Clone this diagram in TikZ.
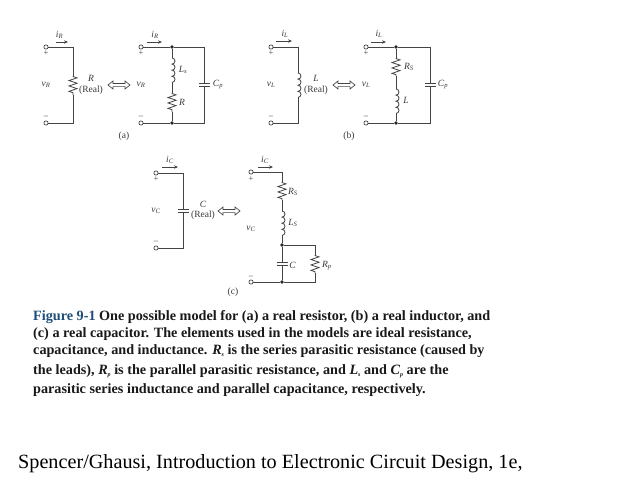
\documentclass[tikz,border=0pt]{standalone}
\usepackage{fontspec}
\setmainfont{Liberation Serif}
\usetikzlibrary{decorations.pathmorphing,arrows.meta}
\definecolor{wirec}{HTML}{444444}
\definecolor{labelc}{HTML}{3A3A3A}
\definecolor{figblue}{HTML}{1F4E79}
\newcommand{\sym}[2]{\textit{#1}\textsubscript{\textit{#2}}}
\newcommand{\capsub}[2]{\textit{#1}\raisebox{-2pt}{\fontsize{6}{6}\selectfont\textit{#2}}}
\tikzset{
  wire/.style={draw=wirec,line width=0.8pt},
  term/.style={circle,draw=wirec,line width=0.7pt,fill=white,inner sep=0pt,minimum size=4.2pt},
  junction/.style={circle,fill=black!85,inner sep=0pt,minimum size=3.8pt},
  lbl/.style={font=\fontsize{9.5}{10.5}\selectfont,text=labelc,inner sep=0pt,align=center},
  sign/.style={font=\fontsize{8.5}{8.5}\selectfont,text=labelc,inner sep=0pt},
  res/.style={wire,decorate,decoration={zigzag,segment length=5.4pt,amplitude=4pt,pre length=0.5pt,post length=0.5pt}},
  cur/.style={draw=wirec,line width=0.6pt,-{Stealth[length=4pt,width=3.4pt]}},
  equivarrow/.pic={\draw[draw=wirec,line width=0.7pt,fill=white] (-11,0)--(-6,-4)--(-6,-1.6)--(6,-1.6)--(6,-4)--(11,0)--(6,4)--(6,1.6)--(-6,1.6)--(-6,4)--cycle;},
  capp/.style={draw=wirec,line width=0.9pt},
  coil/.pic={\draw[wire] (0,0) foreach \i in {1,2,3,4}{ arc(90:-90:3pt and 3.05pt)};},
  capsym/.pic={\draw[capp] (-5.5pt,-1.6pt)--(5.5pt,-1.6pt) (-5.5pt,1.6pt)--(5.5pt,1.6pt);},
  captxt/.style={anchor=base west,inner sep=0pt,text=black!90,font=\fontsize{14.2}{15}\selectfont\bfseries}
}
\begin{document}
\begin{tikzpicture}[x=1pt,y=-1pt]
\useasboundingbox (0,0) rectangle (638,479);
\fill[white] (0,0) rectangle (638,479);

% ---------- (a) left
\node[term] (at1) at (46,47) {};
\node[term] (at2) at (46,123) {};
\coordinate (ac1) at (73,47);
\coordinate (ac2) at (73,123);
\coordinate (ar1) at (73,76);
\coordinate (ar2) at (73,95);
\draw[wire] (at1) -- (ac1) -- (ar1);
\draw[res] (ar1) -- (ar2);
\draw[wire] (ar2) -- (ac2) -- (at2);
\coordinate (aia) at (56,42); \coordinate (aib) at (68,42);
\draw[cur] (aia) -- (aib);
\node[lbl] (ail) at (59.5,35) {\sym{i}{R}};
\node[sign] (ap) at (46,53) {+};
\node[sign] (am) at (46,117) {–};
\node[lbl] (avl) at (46,85) {\sym{v}{R}};
\node[lbl] (arl) at (91,85) {\textit{R}\\(Real)};
\pic at (119,85) {equivarrow};
% (a) right
\node[term] (bt1) at (141,47) {};
\node[term] (bt2) at (141,123) {};
\node[junction] (bj1) at (172,47) {};
\node[junction] (bj2) at (172,123) {};
\coordinate (bc1) at (204,47);
\coordinate (bc2) at (204,123);
\coordinate (bcap1) at (204,83.4);
\coordinate (bcap2) at (204,86.6);
\coordinate (bl1) at (172,58); \coordinate (bl2) at (172,82.4);
\coordinate (br1) at (172,93); \coordinate (br2) at (172,112);
\draw[wire] (bt1) -- (bj1) -- (bc1) -- (bcap1);
\draw[wire] (bcap2) -- (bc2) -- (bj2) -- (bt2);
\pic at (204,85) {capsym};
\draw[wire] (bj1) -- (bl1);
\pic at (bl1) {coil};
\draw[wire] (bl2) -- (br1);
\draw[res] (br1) -- (br2);
\draw[wire] (br2) -- (bj2);
\coordinate (bia) at (147,42); \coordinate (bib) at (162,42);
\draw[cur] (bia) -- (bib);
\node[lbl] at (155,35) {\sym{i}{R}};
\node[sign] at (141,53) {+};
\node[sign] at (141,117) {–};
\node[lbl] at (141,85) {\sym{v}{R}};
\node[lbl] at (183,70) {\sym{L}{s}};
\node[lbl] at (182,102) {\textit{R}};
\node[lbl] at (218,85) {\sym{C}{p}};
\node[lbl] at (124,136) {(a)};

% ---------- (b) left
\node[term] (ct1) at (271,47) {};
\node[term] (ct2) at (271,123) {};
\coordinate (cc1) at (298,47);
\coordinate (cc2) at (298,123);
\coordinate (cl1) at (298,73); \coordinate (cl2) at (298,97.4);
\draw[wire] (ct1) -- (cc1) -- (cl1);
\pic at (cl1) {coil};
\draw[wire] (cl2) -- (cc2) -- (ct2);
\coordinate (cia) at (276,41); \coordinate (cib) at (292,41);
\draw[cur] (cia) -- (cib);
\node[lbl] at (285,34) {\sym{i}{L}};
\node[sign] at (271,53) {+};
\node[sign] at (271,117) {–};
\node[lbl] at (271,85) {\sym{v}{L}};
\node[lbl] at (316,85) {\textit{L}\\(Real)};
\pic at (344,85) {equivarrow};
% (b) right
\node[term] (dt1) at (366,47) {};
\node[term] (dt2) at (366,123) {};
\node[junction] (dj1) at (396,47) {};
\node[junction] (dj2) at (396,123) {};
\coordinate (dc1) at (430,47);
\coordinate (dc2) at (430,123);
\coordinate (dcap1) at (430,83.4);
\coordinate (dcap2) at (430,86.6);
\coordinate (dr1) at (396,58); \coordinate (dr2) at (396,76);
\coordinate (dl1) at (396,89); \coordinate (dl2) at (396,113.4);
\draw[wire] (dt1) -- (dj1) -- (dc1) -- (dcap1);
\draw[wire] (dcap2) -- (dc2) -- (dj2) -- (dt2);
\pic at (430,85) {capsym};
\draw[wire] (dj1) -- (dr1);
\draw[res] (dr1) -- (dr2);
\draw[wire] (dr2) -- (dl1);
\pic at (dl1) {coil};
\draw[wire] (dl2) -- (dj2);
\coordinate (dia) at (371,42); \coordinate (dib) at (386,42);
\draw[cur] (dia) -- (dib);
\node[lbl] at (379,34) {\sym{i}{L}};
\node[sign] at (366,53) {+};
\node[sign] at (366,117) {–};
\node[lbl] at (366,85) {\sym{v}{L}};
\node[lbl] at (409,67) {\sym{R}{S}};
\node[lbl] at (406,100) {\textit{L}};
\node[lbl] at (443,85) {\sym{C}{p}};
\node[lbl] at (349,136) {(b)};

% ---------- (c) left
\node[term] (et1) at (156,173) {};
\node[term] (et2) at (156,248) {};
\coordinate (ec1) at (183,173);
\coordinate (ec2) at (183,248);
\coordinate (ecap1) at (183,209.4);
\coordinate (ecap2) at (183,212.6);
\draw[wire] (et1) -- (ec1) -- (ecap1);
\draw[wire] (ecap2) -- (ec2) -- (et2);
\pic at (183,211) {capsym};
\coordinate (eia) at (162,167); \coordinate (eib) at (178,167);
\draw[cur] (eia) -- (eib);
\node[lbl] at (170,160) {\sym{i}{C}};
\node[sign] at (156,179) {+};
\node[sign] at (156,242) {–};
\node[lbl] at (156,211) {\sym{v}{C}};
\node[lbl] at (203,210.5) {\textit{C}\\(Real)};
\pic at (229,211) {equivarrow};
% (c) right
\node[term] (ft1) at (251,172) {};
\node[term] (ft2) at (251,282) {};
\node[junction] (fj1) at (282,245) {};
\node[junction] (fj2) at (282,282) {};
\coordinate (fc0) at (282,172);
\coordinate (fr1) at (282,182); \coordinate (fr2) at (282,200);
\coordinate (fl1) at (282,211); \coordinate (fl2) at (282,235.4);
\coordinate (fcap1) at (282,262.4); \coordinate (fcap2) at (282,265.6);
\coordinate (fb1) at (315,245); \coordinate (fb2) at (315,282);
\coordinate (fp1) at (315,255); \coordinate (fp2) at (315,273);
\draw[wire] (ft1) -- (fc0) -- (fr1);
\draw[res] (fr1) -- (fr2);
\draw[wire] (fr2) -- (fl1);
\pic at (fl1) {coil};
\draw[wire] (fl2) -- (fj1) -- (fcap1);
\pic at (282,264) {capsym};
\draw[wire] (fcap2) -- (fj2) -- (ft2);
\draw[wire] (fj1) -- (fb1) -- (fp1);
\draw[res] (fp1) -- (fp2);
\draw[wire] (fp2) -- (fb2) -- (fj2);
\coordinate (fia) at (258,167); \coordinate (fib) at (273,167);
\draw[cur] (fia) -- (fib);
\node[lbl] at (265,160) {\sym{i}{C}};
\node[sign] at (251,179) {+};
\node[sign] at (251,277) {–};
\node[lbl] at (251,229) {\sym{v}{C}};
\node[lbl] at (293,192) {\sym{R}{S}};
\node[lbl] at (293,223) {\sym{L}{S}};
\node[lbl] at (292.5,265) {\textit{C}};
\node[lbl] at (327,266) {\sym{R}{p}};
\node[lbl] at (233,292) {(c)};

% ---------- caption
\node[captxt] (l1) at (33,320) {\textcolor{figblue}{Figure 9-1} One possible model for (a) a real resistor, (b) a real inductor, and};
\node[captxt] (l2) at (33,337) {(c) a real capacitor. The elements used in the models are ideal resistance,};
\node[captxt] (l3) at (33,354) {capacitance, and inductance. \capsub{R}{s} is the series parasitic resistance (caused by};
\node[captxt] (l4) at (33,374) {the leads), \capsub{R}{p} is the parallel parasitic resistance, and \capsub{L}{s} and \capsub{C}{p} are the};
\node[captxt] (l5) at (33,393) {parasitic series inductance and parallel capacitance, respectively.};
\node[anchor=base west,inner sep=0pt,font=\fontsize{20.2}{22}\selectfont] (src) at (18,468) {Spencer/Ghausi, Introduction to Electronic Circuit Design, 1e,};
\end{tikzpicture}
\end{document}
